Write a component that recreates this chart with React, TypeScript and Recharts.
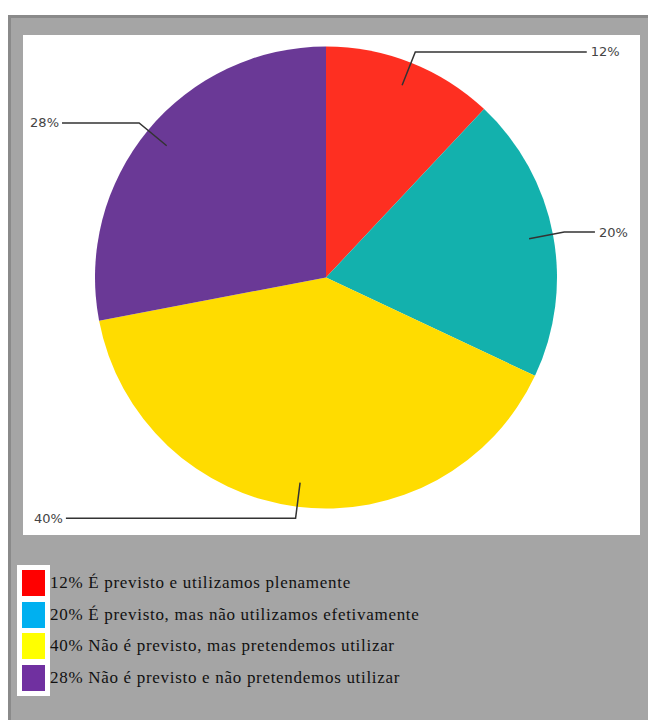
import { PieChart, Pie, Cell } from "recharts";

const categories = [
  "É previsto e utilizamos plenamente",
  "É previsto, mas não utilizamos efetivamente",
  "Não é previsto, mas pretendemos utilizar",
  "Não é previsto e não pretendemos utilizar",
];
const shares = [12, 20, 40, 28];
const sliceColors = ["#fe2f21", "#13b1ad", "#ffdc00", "#6a3996"];
const legendColors = ["#ff0000", "#00b0f0", "#ffff00", "#7030a0"];

const data = categories.map((name, i) => ({ name, value: shares[i] }));

const RAD = Math.PI / 180;

// leader line: from inside the slice out past the rim, then flat to the side
const renderLabel = (props: any) => {
  const { cx, cy, midAngle, outerRadius, value } = props;
  const cos = Math.cos(-midAngle * RAD);
  const sin = Math.sin(-midAngle * RAD);
  const sx = cx + outerRadius * 0.895 * cos;
  const sy = cy + outerRadius * 0.895 * sin;
  const mx = cx + outerRadius * 1.05 * cos;
  const my = cy + outerRadius * 1.05 * sin;
  const right = cos >= 0;
  const reach = 271 - 11 * Math.abs(sin);
  const ex = right ? cx + reach : cx - reach;
  return (
    <g>
      <polyline
        points={`${sx},${sy} ${mx},${my} ${ex},${my}`}
        fill="none"
        stroke="#333"
        strokeWidth={1.5}
      />
      <text
        x={right ? ex + 4 : ex - 3}
        y={my}
        dy={4.5}
        textAnchor={right ? "start" : "end"}
        fill="#444"
        fontSize={13}
        fontFamily="DejaVu Sans"
      >
        {`${value}%`}
      </text>
    </g>
  );
};

export default function App() {
  return (
    <div
      style={{
        marginTop: 7,
        width: 648,
        height: 705,
        background: "#a5a5a5",
        borderLeft: "3px solid #8a8a8a",
        borderTop: "3px solid #8a8a8a",
        boxSizing: "border-box",
        position: "relative",
      }}
    >
      <div
        style={{
          position: "absolute",
          left: 12,
          top: 17,
          width: 617,
          height: 500,
          background: "#fff",
        }}
      >
        <PieChart
          width={617}
          height={500}
          margin={{ top: 0, right: 0, bottom: 0, left: 0 }}
        >
          <Pie
            data={data}
            dataKey="value"
            cx={303}
            cy={242.5}
            outerRadius={231}
            startAngle={90}
            endAngle={-270}
            stroke="none"
            labelLine={false}
            label={renderLabel}
            isAnimationActive={false}
          >
            {data.map((d, i) => (
              <Cell key={d.name} fill={sliceColors[i]} />
            ))}
          </Pie>
        </PieChart>
      </div>
      <div
        style={{
          position: "absolute",
          left: 6,
          top: 547,
          width: 33,
          height: 131,
          background: "#fff",
        }}
      />
      {data.map((d, i) => (
        <div
          key={d.name}
          style={{
            position: "absolute",
            left: 11,
            top: 552 + i * 31.5,
            height: 26,
            display: "flex",
            alignItems: "center",
            whiteSpace: "nowrap",
          }}
        >
          <div style={{ width: 23, height: 26, background: legendColors[i] }} />
          <span
            style={{
              marginLeft: 5,
              fontFamily: "Liberation Serif",
              fontSize: 17,
              letterSpacing: 0.7,
              color: "#111",
            }}
          >
            {`${d.value}% ${d.name}`}
          </span>
        </div>
      ))}
    </div>
  );
}
